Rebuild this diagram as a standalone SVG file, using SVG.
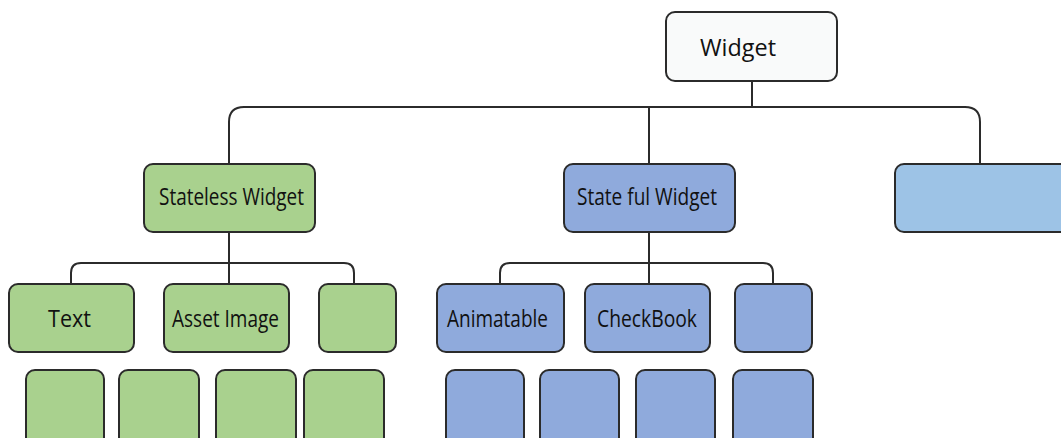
<svg xmlns="http://www.w3.org/2000/svg" width="1061" height="438" viewBox="0 0 1061 438">
  <style>
    .box { stroke: #2b2b2b; stroke-width: 2; }
    .root { fill: #f9fafa; }
    .green { fill: #a9d18e; }
    .blue { fill: #8faadc; }
    .sky { fill: #9dc3e6; }
    .link { fill: none; stroke: #2b2b2b; stroke-width: 2; }
    .label { font-family: "Open Sans", "Liberation Sans", sans-serif; font-size: 24px; fill: #111; }
  </style>
  <rect width="1061" height="438" fill="#ffffff"/>

  <!-- connectors -->
  <g id="connectors">
    <path class="link" d="M752 81 V107"/>
    <path class="link" d="M229 164 V122 Q229 107 244 107 H965 Q980 107 980 122 V164"/>
    <path class="link" d="M649 107 V164"/>
    <path class="link" d="M229 232 V284"/>
    <path class="link" d="M71 284 V273 Q71 263 81 263 H344 Q354 263 354 273 V284"/>
    <path class="link" d="M649 232 V284"/>
    <path class="link" d="M500 284 V273 Q500 263 510 263 H763 Q773 263 773 273 V284"/>
  </g>

  <g id="widget">
    <rect class="box root" x="666" y="12" width="171" height="69" rx="9"/>
    <text class="label" x="700" y="56" textLength="76" lengthAdjust="spacingAndGlyphs">Widget</text>
  </g>

  <g id="stateless">
    <rect class="box green" x="144" y="164" width="171" height="68" rx="9"/>
    <text class="label" x="159" y="205" textLength="145" lengthAdjust="spacingAndGlyphs">Stateless Widget</text>
  </g>
  <g id="stateful">
    <rect class="box blue" x="564" y="164" width="171" height="68" rx="9"/>
    <text class="label" x="577" y="205" textLength="140" lengthAdjust="spacingAndGlyphs">State ful Widget</text>
  </g>
  <g id="other">
    <rect class="box sky" x="895" y="164" width="175" height="68" rx="9"/>
  </g>

  <!-- stateless children -->
  <g id="text-node">
    <rect class="box green" x="9" y="284" width="125" height="68" rx="9"/>
    <text class="label" x="48" y="327" textLength="43" lengthAdjust="spacingAndGlyphs">Text</text>
  </g>
  <g id="asset-image">
    <rect class="box green" x="164" y="284" width="125" height="68" rx="9"/>
    <text class="label" x="172" y="327" textLength="107" lengthAdjust="spacingAndGlyphs">Asset Image</text>
  </g>
  <g id="green-small">
    <rect class="box green" x="319" y="284" width="77" height="68" rx="9"/>
  </g>
  <g id="green-row">
    <rect class="box green" x="26" y="370" width="78" height="80" rx="9"/>
    <rect class="box green" x="119" y="370" width="80" height="80" rx="9"/>
    <rect class="box green" x="216" y="370" width="80" height="80" rx="9"/>
    <rect class="box green" x="304" y="370" width="80" height="80" rx="9"/>
  </g>

  <!-- stateful children -->
  <g id="animatable">
    <rect class="box blue" x="437" y="284" width="127" height="68" rx="9"/>
    <text class="label" x="447" y="327" textLength="101" lengthAdjust="spacingAndGlyphs">Animatable</text>
  </g>
  <g id="checkbook">
    <rect class="box blue" x="585" y="284" width="125" height="68" rx="9"/>
    <text class="label" x="597" y="327" textLength="100" lengthAdjust="spacingAndGlyphs">CheckBook</text>
  </g>
  <g id="blue-small">
    <rect class="box blue" x="735" y="284" width="77" height="68" rx="9"/>
  </g>
  <g id="blue-row">
    <rect class="box blue" x="446" y="370" width="78" height="80" rx="9"/>
    <rect class="box blue" x="540" y="370" width="79" height="80" rx="9"/>
    <rect class="box blue" x="636" y="370" width="79" height="80" rx="9"/>
    <rect class="box blue" x="733" y="370" width="80" height="80" rx="9"/>
  </g>
</svg>
